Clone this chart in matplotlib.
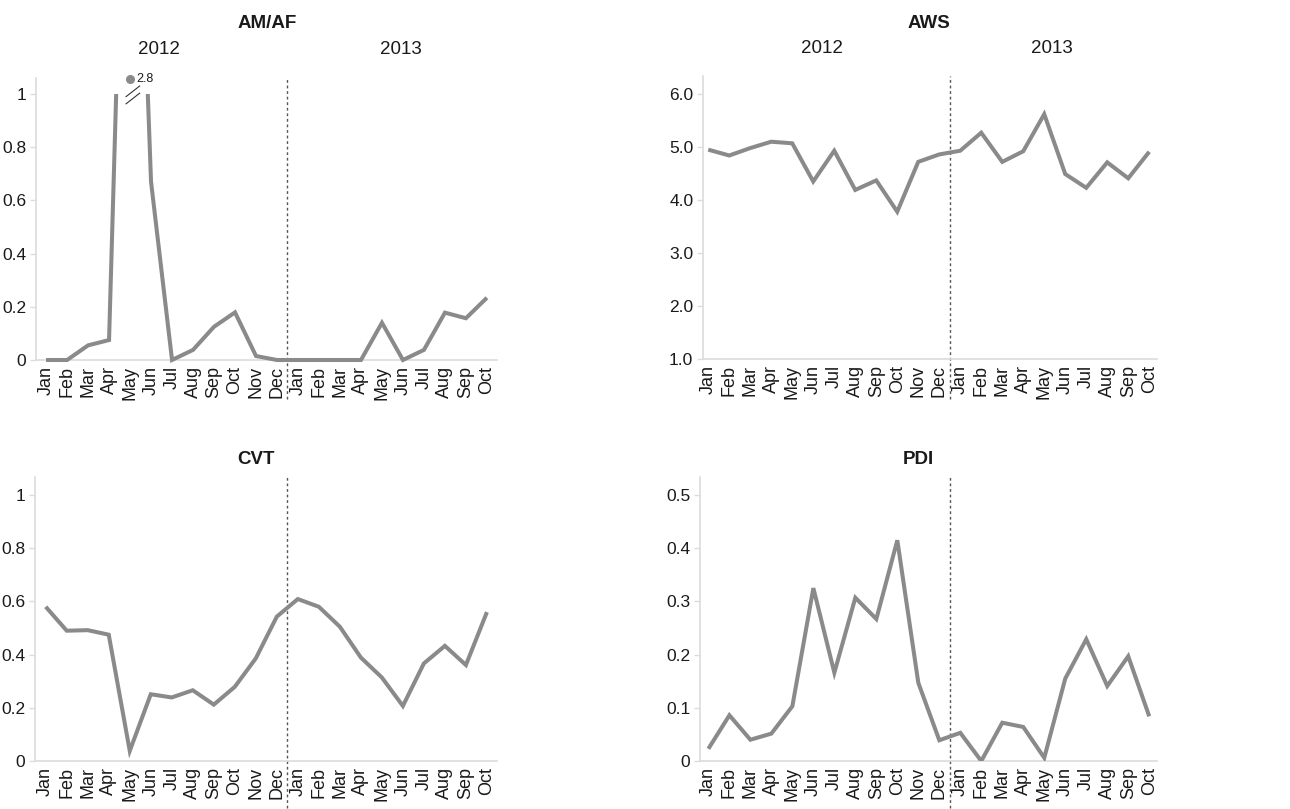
import matplotlib
matplotlib.use("Agg")
import matplotlib.pyplot as plt
from matplotlib.patches import Rectangle
import numpy as np

plt.rcParams['font.family'] = ['Liberation Sans', 'DejaVu Sans']

# Month axis: Jan 2012 .. Oct 2013
months_2012 = ["Jan", "Feb", "Mar", "Apr", "May", "Jun", "Jul", "Aug", "Sep", "Oct", "Nov", "Dec"]
months_2013 = ["Jan", "Feb", "Mar", "Apr", "May", "Jun", "Jul", "Aug", "Sep", "Oct"]
month_labels = months_2012 + months_2013
years = ["2012", "2013"]

am_af = [0, 0, 0.055, 0.075, 2.8, 0.67, 0, 0.038, 0.125, 0.179, 0.015, 0,
         0, 0, 0, 0, 0.14, 0, 0.038, 0.178, 0.157, 0.234]
aws = [4.95, 4.84, 4.98, 5.10, 5.07, 4.35, 4.93, 4.19, 4.37, 3.78, 4.72, 4.86,
       4.93, 5.27, 4.72, 4.92, 5.62, 4.49, 4.23, 4.71, 4.41, 4.91]
cvt = [0.58, 0.49, 0.492, 0.475, 0.038, 0.251, 0.239, 0.266, 0.212, 0.279, 0.386, 0.543,
       0.609, 0.58, 0.505, 0.389, 0.314, 0.207, 0.367, 0.433, 0.361, 0.56]
pdi = [0.023, 0.086, 0.040, 0.0515, 0.103, 0.325, 0.166, 0.307, 0.267, 0.415, 0.147, 0.039,
       0.053, 0.0, 0.072, 0.064, 0.006, 0.155, 0.229, 0.141, 0.197, 0.084]

am_af_ticks = [0, 0.2, 0.4, 0.6, 0.8, 1.0]
am_af_ticklabels = ["0", "0.2", "0.4", "0.6", "0.8", "1"]
aws_ticks = [1, 2, 3, 4, 5, 6]
aws_ticklabels = ["1.0", "2.0", "3.0", "4.0", "5.0", "6.0"]
cvt_ticks = [0, 0.2, 0.4, 0.6, 0.8, 1.0]
cvt_ticklabels = ["0", "0.2", "0.4", "0.6", "0.8", "1"]
pdi_ticks = [0, 0.1, 0.2, 0.3, 0.4, 0.5]
pdi_ticklabels = ["0", "0.1", "0.2", "0.3", "0.4", "0.5"]

# AM/AF is shown with a broken axis above this level
am_af_cap = 1.0

LINE = "#8a8a8a"
SPINE = "#dcdcdc"
TEXT = "#1a1a1a"

W, H = 1290, 809
fig = plt.figure(figsize=(W / 100, H / 100), dpi=100)


def px_axes(l, t, r, b):
    return fig.add_axes([l / W, 1 - b / H, (r - l) / W, (b - t) / H])


panels = [
    dict(box=(36, 78, 497, 360), title="AM/AF", data=am_af, ylim=(0, 1.06),
         ticks=am_af_ticks, labels=am_af_ticklabels, xlim=(-0.48, 21.48),
         title_xy=(267, 23), years=(5.4, 16.9), vext=-0.14),
    dict(box=(703, 76, 1157, 359), title="AWS", data=aws, ylim=(1.0, 6.34),
         ticks=aws_ticks, labels=aws_ticklabels, xlim=(-0.25, 21.37),
         title_xy=(929, 23), years=(5.4, 16.35), vext=-0.14),
    dict(box=(35, 477, 497, 761), title="CVT", data=cvt, ylim=(0, 1.068),
         ticks=cvt_ticks, labels=cvt_ticklabels, xlim=(-0.51, 21.48),
         title_xy=(256, 460), years=None, vext=-0.165),
    dict(box=(700, 477, 1157, 761), title="PDI", data=pdi, ylim=(0, 0.534),
         ticks=pdi_ticks, labels=pdi_ticklabels, xlim=(-0.4, 21.37),
         title_xy=(918, 460), years=None, vext=-0.165),
]

x = np.arange(len(month_labels))

for p in panels:
    ax = px_axes(*p["box"])
    line, = ax.plot(x, p["data"], color=LINE, lw=2.9, solid_joinstyle="miter",
                    solid_capstyle="butt", zorder=3)
    ax.set_xlim(*p["xlim"])
    ax.set_ylim(*p["ylim"])
    ax.set_yticks(p["ticks"])
    ax.set_yticklabels(p["labels"])
    ax.set_xticks(x)
    ax.set_xticklabels(month_labels, rotation=90, fontsize=13, color=TEXT)
    ax.tick_params(axis="y", length=4, width=1, color=SPINE, pad=3,
                   labelsize=12.5, labelcolor=TEXT)
    ax.tick_params(axis="x", length=0, pad=4)
    for s in ("top", "right"):
        ax.spines[s].set_visible(False)
    for s in ("left", "bottom"):
        ax.spines[s].set_color(SPINE)
        ax.spines[s].set_linewidth(1.2)

    # year divider
    ax.axvline(11.5, ymin=p["vext"], ymax=1, color="#555555", lw=1,
               ls=(0, (2, 2)), clip_on=False, zorder=2)

    fig.text(p["title_xy"][0] / W, 1 - p["title_xy"][1] / H, p["title"],
             ha="center", va="center", fontsize=13.5, fontweight="bold", color=TEXT)
    if p["years"]:
        box_h = p["box"][3] - p["box"][1]
        for yx, yl in zip(p["years"], years):
            ax.text(yx, 1.0 + (p["box"][1] - 49) / box_h, yl,
                    transform=ax.get_xaxis_transform(), ha="center", va="center",
                    fontsize=13.5, color=TEXT)

    if p["title"] == "AM/AF":
        clip = Rectangle((-5, -1), 40, 1 + am_af_cap, transform=ax.transData)
        line.set_clip_path(clip)
        peak = int(np.argmax(am_af))
        top = p["ylim"][1]
        ax.plot([peak], [top - 0.005], "o", color=LINE, ms=5.5, clip_on=False, zorder=4)
        ax.annotate(f"{am_af[peak]:.1f}", (peak, top - 0.005), xytext=(4.5, 0),
                    textcoords="offset points", va="center", ha="left",
                    fontsize=9, color=TEXT, annotation_clip=False)
        # broken-axis slashes
        for dy in (0.0, -0.027):
            ax.plot([peak - 0.19, peak + 0.46], [am_af_cap - 0.010 + dy, am_af_cap + 0.030 + dy],
                    color="#333333", lw=0.8, clip_on=False, zorder=4)

fig.savefig("out.png", dpi=100, facecolor="white")
